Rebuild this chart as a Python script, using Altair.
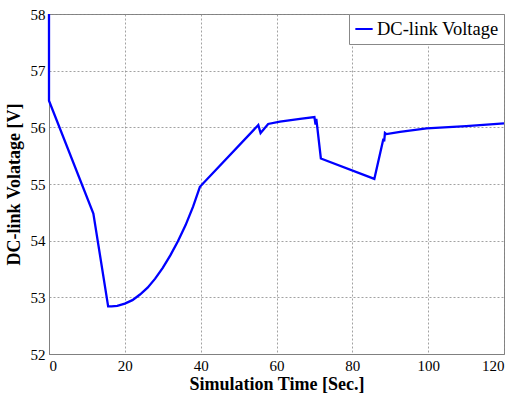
import altair as alt
import pandas as pd

# DC-link voltage trace over the simulation run
time_s = [0, 0, 11.7, 15.6, 16.5, 18, 20, 22, 24, 26, 28, 30, 32, 34, 36, 38, 39.8,
          55.2, 55.8, 57.8, 60.9, 66.2, 70.0, 70.3, 70.5, 71.7, 85.8,
          88.2, 88.4, 88.6, 89.0, 92.6, 99.6, 110, 120]
voltage = [58.0, 56.47, 54.48, 52.84, 52.84, 52.85, 52.89, 52.95, 53.05, 53.17, 53.33, 53.52, 53.74,
           53.99, 54.27, 54.6, 54.95,
           56.04, 55.9, 56.06, 56.1, 56.15, 56.18, 56.05, 56.15, 55.45, 55.09,
           55.8, 55.75, 55.9, 55.88, 55.92, 55.98, 56.02, 56.07]
series_name = "DC-link Voltage"

df = pd.DataFrame({
    "t": time_s,
    "v": voltage,
    "idx": list(range(len(time_s))),
    "series": [series_name] * len(time_s),
})

serif = "Liberation Serif"

axis_style = dict(
    grid=True,
    gridColor="#8a8a8a",
    gridDash=[2, 2],
    gridWidth=0.8,
    domainColor="#808080",
    ticks=False,
    labelFont=serif,
    labelFontSize=15,
    labelColor="black",
    titleFont=serif,
    titleFontSize=18,
    titleFontWeight="bold",
    titleColor="black",
)

chart = alt.Chart(df).mark_line(strokeWidth=2.3).encode(
    x=alt.X("t:Q", title="Simulation Time [Sec.]",
            scale=alt.Scale(domain=[0, 120], nice=False),
            axis=alt.Axis(values=[0, 20, 40, 60, 80, 100, 120],
                          labelPadding=4, titlePadding=2, **axis_style)),
    y=alt.Y("v:Q", title="DC-link Volatage [V]",
            scale=alt.Scale(domain=[52, 58], nice=False, zero=False),
            axis=alt.Axis(values=[52, 53, 54, 55, 56, 57, 58],
                          labelPadding=4, titlePadding=7, **axis_style)),
    order="idx:Q",
    color=alt.Color("series:N",
                    scale=alt.Scale(domain=[series_name], range=["#0000ff"]),
                    legend=alt.Legend(title=None, orient="top-right", offset=0,
                                      symbolType="stroke", symbolStrokeWidth=2,
                                      symbolSize=300,
                                      labelFont=serif, labelFontSize=18.5,
                                      labelColor="black",
                                      strokeColor="#888888", fillColor="white",
                                      padding=5, labelOffset=3)),
).properties(
    width=455,
    height=340,
    autosize=alt.AutoSizeParams(type="none"),
    padding={"left": 49, "top": 14, "right": 11, "bottom": 39},
).configure(
    font=serif
).configure_view(
    stroke="#808080", strokeWidth=1
)

chart.save("out.html", embed_options={"renderer": "svg", "actions": False})
